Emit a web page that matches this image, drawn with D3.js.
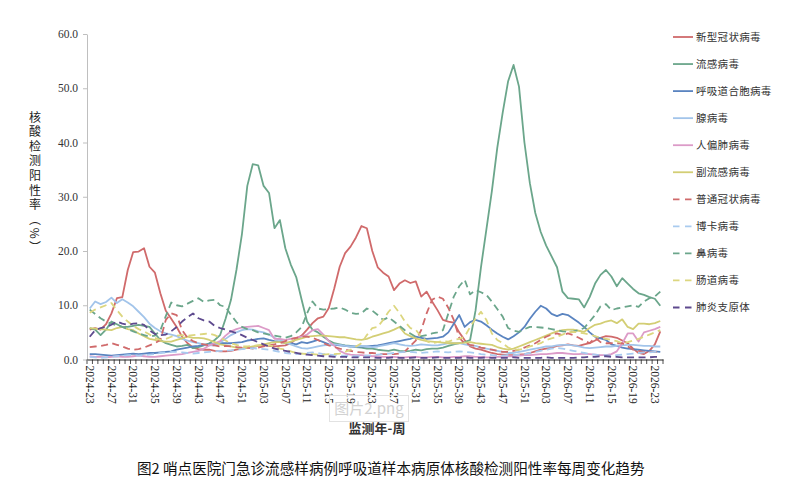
<!DOCTYPE html>
<html><head><meta charset="utf-8">
<script src="https://cdn.jsdelivr.net/npm/d3@7/dist/d3.min.js"></script>
<style>
html,body{margin:0;padding:0;background:#fff;}
svg{display:block;}
</style></head>
<body>
<svg id="chart" width="799" height="490"></svg>
<script>
// ---- Data ----
const startYear = 2024, startWeek = 23;
const yearWeeks = {2024: 52, 2025: 52, 2026: 52};
const categories = [];
(function(){ let y = startYear, w = startWeek;
  for (let k = 0; k < 106; k++) { categories.push(y + "-" + String(w).padStart(2, "0")); w++; if (w > yearWeeks[y]) { w = 1; y++; } } })();
const tickLabels = categories.filter((d, i) => i % 4 === 0 && i <= 104);
const yTicks = [0, 10, 20, 30, 40, 50, 60];

const seriesNames = ["新型冠状病毒","流感病毒","呼吸道合胞病毒","腺病毒","人偏肺病毒","副流感病毒","普通冠状病毒","博卡病毒","鼻病毒","肠道病毒","肺炎支原体"];

const covid = [5.5,5.8,5.5,6.5,8.5,11.3,11.5,16.5,19.8,19.9,
 20.5,17.1,16.0,12.2,9.0,7.5,6.0,4.2,3.0,2.2,
 1.9,1.8,1.8,1.6,1.5,1.5,1.6,1.8,2.0,2.2,
 2.3,2.5,2.6,2.5,2.4,2.5,2.6,3.0,3.8,4.4,
 5.5,6.7,7.6,7.9,9.5,13.1,17.1,19.6,20.8,22.5,
 24.6,24.2,20.0,17.0,16.0,15.3,12.8,14.0,14.6,14.1,
 14.4,11.6,12.5,10.7,9.1,7.3,7.0,6.8,5.0,3.6,
 2.4,2.0,1.8,1.5,1.2,1.0,0.9,0.8,0.8,0.9,
 1.0,1.2,1.5,1.8,2.0,2.2,2.5,2.6,2.8,2.6,
 2.5,2.8,3.0,3.5,4.0,4.3,4.2,4.0,3.5,3.0,
 2.0,1.2,1.0,1.6,2.8,5.2];
const flu = [5.8,5.5,4.5,5.5,7.0,6.5,6.0,6.0,6.2,6.4,
 6.2,6.0,4.8,3.6,3.0,2.7,2.4,2.5,2.7,2.1,
 2.3,2.6,3.0,3.6,4.5,7.5,11.0,16.5,23.0,32.0,
 36.0,35.8,32.0,30.7,24.2,25.7,20.5,17.5,15.2,11.0,
 7.0,5.5,5.0,4.2,3.5,3.0,2.8,2.6,2.5,2.3,
 2.2,2.0,2.0,1.8,1.7,1.6,1.8,1.6,1.5,1.6,
 1.8,1.7,1.9,2.0,2.0,2.2,2.5,2.8,3.0,3.2,
 3.6,9.0,17.0,24.0,31.0,39.0,45.5,51.3,54.3,50.3,
 40.0,32.5,27.0,23.5,21.0,19.0,17.0,12.5,11.3,11.2,
 11.1,9.6,11.5,14.0,15.6,16.5,15.3,13.5,15.0,14.0,
 13.0,12.2,11.9,11.5,11.2,9.9];
const rsv = [1.0,1.0,0.9,0.8,0.7,0.8,0.9,1.0,1.1,1.0,
 1.1,1.2,1.2,1.3,1.4,1.5,1.8,2.0,2.2,2.4,
 2.5,2.7,2.8,2.9,3.0,3.0,3.0,3.1,3.2,3.5,
 3.6,3.8,3.9,3.6,3.4,3.3,3.0,3.0,2.8,3.2,
 3.0,3.3,3.6,3.2,2.8,2.7,2.6,2.5,2.4,2.4,
 2.4,2.4,2.5,2.6,2.8,3.0,3.2,3.4,3.6,3.8,
 4.2,4.0,3.8,3.9,4.0,4.2,5.0,6.6,8.2,6.0,
 6.9,7.3,7.0,6.3,5.5,4.8,4.2,3.7,4.3,5.0,
 6.0,7.5,8.8,9.9,9.4,8.4,8.0,8.4,8.2,7.5,
 6.8,6.0,5.0,4.2,3.9,3.6,2.8,2.5,2.2,2.0,
 1.9,1.8,1.7,1.6,1.5,1.4];
const adeno = [9.4,10.7,10.2,10.6,11.4,10.4,11.1,10.5,9.8,8.8,
 7.8,6.6,5.8,5.2,4.8,4.6,4.3,3.8,3.5,3.2,
 3.0,2.8,2.6,2.6,3.2,3.8,4.5,5.0,5.4,5.6,
 5.5,5.2,5.0,4.6,4.0,3.6,3.2,2.8,2.4,2.1,
 2.0,2.2,2.4,2.6,2.7,2.8,2.7,2.5,2.4,2.4,
 2.5,2.4,2.3,2.4,2.6,2.8,3.0,2.8,2.6,2.5,
 2.6,2.8,2.7,2.6,2.6,2.8,3.0,3.0,3.0,2.8,
 2.6,2.5,2.2,2.0,1.8,1.6,1.4,1.2,1.2,1.4,
 1.6,1.8,2.0,2.2,2.4,2.4,2.6,2.7,2.7,2.6,
 2.4,2.2,2.1,2.2,2.3,2.4,2.4,2.5,2.6,2.7,
 2.7,2.6,2.5,2.5,2.4,2.4];
const hmpv = [0.6,0.5,0.5,0.4,0.5,0.6,0.5,0.5,0.6,0.7,
 0.6,0.5,0.5,0.6,0.7,0.8,0.9,1.0,1.2,1.4,
 1.6,2.0,2.6,3.0,3.4,4.4,5.2,5.6,5.9,6.0,
 6.1,6.2,5.8,5.4,3.8,3.8,3.6,3.8,4.0,4.2,
 4.6,5.4,5.6,4.6,3.4,2.5,1.6,1.1,0.9,0.8,
 0.8,0.7,0.6,0.6,0.5,0.5,0.5,0.4,0.4,0.5,
 0.5,0.4,0.4,0.5,0.5,0.4,0.4,0.5,0.5,0.6,
 0.6,0.5,0.5,0.4,0.4,0.5,0.5,0.6,0.6,0.7,
 0.8,0.8,0.9,1.0,1.0,1.1,1.2,1.2,1.1,1.0,
 1.0,1.1,1.0,0.9,0.8,0.8,1.0,1.5,3.0,4.8,
 4.8,3.3,5.0,5.3,5.6,6.0];
const paraflu = [5.8,5.7,5.6,5.5,5.4,5.8,6.0,5.6,5.4,4.8,
 4.3,3.8,3.6,3.4,3.3,3.3,3.6,3.9,4.2,4.0,
 4.0,3.9,3.6,3.2,2.8,2.6,2.4,2.2,2.0,2.2,
 2.4,2.6,2.8,3.0,3.2,3.2,3.0,3.3,3.6,3.9,
 4.2,4.3,4.4,4.4,4.3,4.2,4.1,4.1,3.9,3.7,
 3.6,3.8,4.2,4.5,4.8,5.1,5.5,6.0,4.8,4.3,
 3.9,3.6,3.4,3.3,3.2,3.1,3.0,3.0,3.0,3.1,
 3.2,3.0,2.9,2.8,2.7,2.3,2.0,1.8,2.0,2.4,
 2.8,3.2,3.6,4.0,4.4,4.8,5.2,5.4,5.5,5.5,
 5.3,5.1,5.8,6.4,6.6,7.0,7.2,6.7,7.4,6.0,
 5.6,6.6,6.6,6.5,6.7,7.1];
const hcov = [2.3,2.4,2.5,2.7,3.0,2.7,2.4,2.0,1.8,1.9,
 2.2,2.6,3.0,3.6,7.3,8.5,8.2,5.4,4.0,3.4,
 3.0,2.8,2.6,2.6,2.4,2.5,2.4,2.3,2.2,2.2,
 2.0,2.2,2.4,2.6,2.8,3.0,3.4,3.8,4.0,4.2,
 4.2,4.0,3.6,3.0,2.6,2.3,2.0,1.8,1.6,1.4,
 1.3,1.2,1.2,1.1,1.0,1.0,1.0,1.1,1.5,2.5,
 3.5,5.4,8.5,11.0,11.6,11.2,9.5,7.3,4.0,3.0,
 2.7,2.5,2.2,2.0,1.8,1.6,1.4,1.4,1.6,1.8,
 2.2,2.6,3.0,3.6,4.2,4.6,4.8,4.5,4.8,4.5,
 4.0,3.5,3.0,4.0,3.2,3.0,3.0,3.0,3.0,2.4,
 1.8,1.6,1.4,1.4,1.4,1.4];
const boca = [0.5,0.4,0.3,0.4,0.5,0.6,0.7,0.8,0.8,0.7,
 0.8,0.9,1.0,1.2,1.3,1.4,1.4,1.3,1.2,1.1,
 1.2,1.3,1.4,1.5,1.6,1.6,1.7,1.8,1.9,2.0,
 2.1,2.0,1.9,1.8,1.6,1.4,1.2,1.1,1.0,1.1,
 1.2,1.3,1.2,1.0,0.9,0.8,0.7,0.7,0.6,0.6,
 0.6,0.7,0.8,0.9,1.0,1.1,1.2,1.3,1.4,1.4,
 1.3,1.2,1.3,1.4,1.5,1.4,1.3,1.4,1.5,1.4,
 1.3,1.2,1.0,0.9,0.8,0.7,0.7,0.8,0.8,0.9,
 1.0,1.2,1.4,1.6,1.8,2.0,2.1,2.0,1.8,1.6,
 1.4,1.2,1.0,0.9,0.8,0.8,0.7,0.8,0.9,1.0,
 1.1,1.2,1.3,1.3,1.4,1.4];
const rhino = [9.2,8.4,7.6,7.0,6.6,6.3,6.0,5.6,5.2,4.8,
 4.5,4.2,4.4,5.4,8.0,10.5,10.0,9.8,10.3,10.8,
 11.3,10.6,10.9,11.0,10.0,9.7,8.2,6.9,6.0,5.6,
 5.4,5.0,4.8,4.6,4.4,4.2,4.0,4.3,5.0,6.0,
 8.5,10.7,9.4,9.2,9.3,9.4,9.6,9.2,8.6,8.4,
 8.5,9.4,9.0,8.2,7.3,7.8,7.0,6.2,5.4,4.8,
 4.2,4.3,4.5,4.8,5.0,5.4,8.5,11.6,13.5,14.7,
 12.0,12.8,12.4,11.9,10.7,9.3,7.9,5.8,5.3,5.1,
 5.6,6.0,6.0,5.9,5.8,5.6,5.4,5.2,5.1,5.2,
 5.4,5.8,7.0,8.2,9.8,10.2,9.1,9.4,9.6,9.8,
 10.0,9.7,10.7,11.3,11.6,12.5];
const entero = [8.6,9.2,9.6,10.0,10.4,9.1,7.9,7.0,6.2,5.6,
 5.2,4.6,4.0,3.6,3.8,4.2,4.4,4.5,4.4,4.5,
 4.6,4.7,4.8,4.5,4.0,3.5,3.0,2.7,2.4,2.4,
 2.5,2.6,2.7,2.6,2.4,2.0,1.8,1.5,1.2,1.1,
 1.0,1.0,0.9,0.9,1.0,1.0,1.1,1.4,1.8,2.4,
 3.0,4.5,5.8,6.0,7.3,8.8,9.9,8.6,7.0,5.8,
 5.5,4.2,3.4,3.0,3.2,3.4,3.3,3.6,3.8,4.2,
 6.0,7.5,8.8,7.3,4.8,3.6,3.0,2.2,1.8,1.8,
 2.0,2.4,2.7,3.0,3.6,3.9,4.2,4.6,5.0,5.1,
 5.0,4.8,4.6,4.3,4.0,3.8,3.6,3.4,3.0,3.2,
 3.5,3.8,4.2,4.6,5.0,5.4];
const mycoplasma = [4.2,5.4,5.8,6.0,6.4,7.0,6.6,6.4,6.6,6.7,
 6.4,5.4,4.7,4.5,4.6,5.2,6.0,7.0,7.8,8.5,
 7.6,7.2,7.0,6.2,5.8,5.5,5.2,4.9,4.5,4.0,
 3.6,3.2,2.8,2.4,2.0,1.8,1.6,1.4,1.2,1.0,
 0.9,0.8,0.7,0.6,0.6,0.5,0.5,0.5,0.4,0.4,
 0.4,0.4,0.4,0.3,0.3,0.3,0.4,0.3,0.3,0.3,
 0.4,0.3,0.3,0.3,0.4,0.3,0.3,0.3,0.3,0.4,
 0.3,0.3,0.3,0.4,0.3,0.3,0.3,0.3,0.4,0.3,
 0.3,0.3,0.3,0.3,0.4,0.3,0.3,0.3,0.3,0.3,
 0.4,0.4,0.5,0.5,0.6,0.6,0.5,0.5,0.4,0.4,
 0.4,0.4,0.4,0.4,0.5,0.5];

const seriesValues = [covid, flu, rsv, adeno, hmpv, paraflu, hcov, boca, rhino, entero, mycoplasma];

// ---- Styles ----
const colors = ["#d06a6b","#6ba68b","#5a84c0","#a2c4ea","#dc9bc8","#d3ce74","#d06a6b","#a9cbef","#6ba68b","#dcd67f","#5e4a8e"];
const dashed = [false,false,false,false,false,false,true,true,true,true,true];

const svg = d3.select("#chart");
const serif = "'Liberation Serif','Times New Roman',serif";
const cjk = "'Noto Sans CJK SC','Noto Sans',sans-serif";

const x = d3.scaleBand().domain(categories).range([87, 663]);
const cx = d => x(d) + x.bandwidth() / 2;
const y = d3.scaleLinear().domain([0, 60]).range([359.5, 34]);

// Y axis
const yAxis = svg.append("g").attr("transform", "translate(87,0)")
  .call(d3.axisLeft(y).tickValues(yTicks).tickFormat(d3.format(".1f")).tickSize(4).tickSizeOuter(0));
yAxis.select(".domain").attr("stroke", "#bfbfbf").attr("stroke-width", 1);
yAxis.selectAll(".tick line").attr("stroke", "#bfbfbf");
yAxis.selectAll(".tick text").attr("font-family", serif).attr("font-size", 11.5).attr("fill", "#333").attr("x", -9);

// Lines
const line = d3.line().x((d, i) => cx(categories[i])).y(d => y(d));
seriesValues.forEach((vals, k) => {
  svg.append("path").datum(vals)
    .attr("d", line)
    .attr("fill", "none")
    .attr("stroke", colors[k])
    .attr("stroke-width", 1.8)
    .attr("stroke-linejoin", "round")
    .attr("stroke-dasharray", dashed[k] ? "7,4.5" : null);
});

// X axis
const xAxis = svg.append("g").attr("transform", "translate(0,359.5)")
  .call(d3.axisBottom(x).tickValues(tickLabels).tickSize(0).tickSizeOuter(0));
xAxis.select(".domain").attr("stroke", "#222").attr("stroke-width", 1.2);
xAxis.selectAll(".tick text")
  .attr("font-family", serif).attr("font-size", 11.5).attr("fill", "#222")
  .attr("text-anchor", "start")
  .attr("transform", "rotate(90)")
  .attr("x", 6).attr("y", 0).attr("dy", "0.33em");
const bounds = categories.map(d => x(d)).concat([x.range()[1]]);
svg.append("g").selectAll("line").data(bounds).join("line")
  .attr("x1", d => d).attr("x2", d => d)
  .attr("y1", 359.5).attr("y2", 364)
  .attr("stroke", "#222").attr("stroke-width", 0.8);

// Y axis title (vertical writing)
svg.append("text")
  .attr("x", 35).attr("y", 111)
  .attr("font-family", cjk).attr("font-size", 12).attr("fill", "#222")
  .style("writing-mode", "vertical-rl")
  .style("text-orientation", "mixed")
  .style("letter-spacing", "2.6px")
  .text("核酸检测阳性率（%）");

// X axis title
svg.append("text").attr("x", 377).attr("y", 433)
  .attr("text-anchor", "middle")
  .attr("font-family", cjk).attr("font-size", 13).attr("font-weight", "bold").attr("fill", "#333")
  .text("监测年-周");

// Watermark box
svg.append("rect").attr("x", 329.5).attr("y", 395.5).attr("width", 79).attr("height", 26)
  .attr("fill", "none").attr("stroke", "#e2e2e2").attr("stroke-width", 1);
svg.append("text").attr("x", 369).attr("y", 414)
  .attr("text-anchor", "middle")
  .attr("font-family", cjk).attr("font-size", 15).attr("fill", "#d2d2d2")
  .text("图片2.png");

// Legend
const lg = svg.append("g");
seriesNames.forEach((name, k) => {
  const ly = 37 + k * 27.05;
  lg.append("line").attr("x1", 673).attr("x2", 693).attr("y1", ly).attr("y2", ly)
    .attr("stroke", colors[k]).attr("stroke-width", 1.8)
    .attr("stroke-dasharray", dashed[k] ? "6.5,5.5" : null);
  lg.append("text").attr("x", 696).attr("y", ly).attr("dy", "0.35em")
    .attr("font-family", cjk).attr("font-size", 10.5).attr("fill", "#333")
    .attr("letter-spacing", 0.3)
    .text(name);
});

// Caption
svg.append("text").attr("x", 137).attr("y", 474)
  .attr("font-family", cjk).attr("font-size", 14.6).attr("fill", "#111")
  .text("图2  哨点医院门急诊流感样病例呼吸道样本病原体核酸检测阳性率每周变化趋势");
</script>
</body></html>
